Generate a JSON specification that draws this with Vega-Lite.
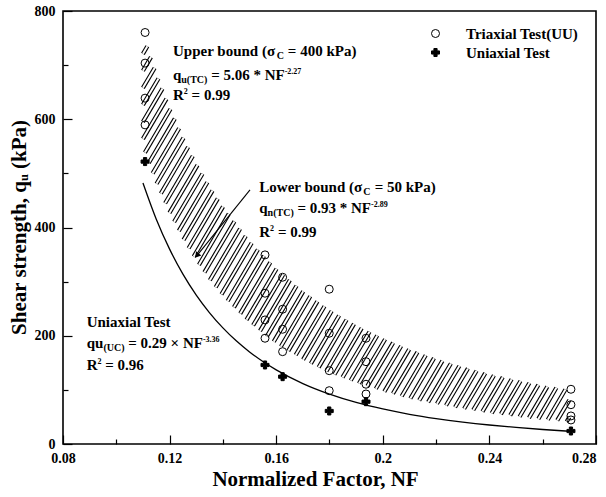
{
  "$schema": "https://vega.github.io/schema/vega-lite/v6.json",
  "width": 533,
  "height": 433,
  "autosize": "none",
  "padding": {"left": 63, "top": 11, "right": 10, "bottom": 53},
  "background": "white",
  "datasets": {
    "hatch": [
      {"x":0.11,"y":720.9,"x2":0.11166,"y2":734.8},
      {"x":0.11,"y":689.5,"x2":0.11302,"y2":714.8},
      {"x":0.11,"y":658.0,"x2":0.11439,"y2":694.8},
      {"x":0.11,"y":626.6,"x2":0.11583,"y2":675.4},
      {"x":0.11,"y":595.2,"x2":0.11733,"y2":656.6},
      {"x":0.11,"y":563.8,"x2":0.11883,"y2":637.7},
      {"x":0.11073,"y":538.4,"x2":0.12035,"y2":619.0},
      {"x":0.11218,"y":519.2,"x2":0.12197,"y2":601.1},
      {"x":0.11363,"y":500.0,"x2":0.12359,"y2":583.4},
      {"x":0.11509,"y":480.8,"x2":0.12523,"y2":565.6},
      {"x":0.11671,"y":462.8,"x2":0.12697,"y2":548.8},
      {"x":0.11832,"y":444.9,"x2":0.12871,"y2":532.0},
      {"x":0.11993,"y":427.0,"x2":0.13048,"y2":515.3},
      {"x":0.12169,"y":410.4,"x2":0.13234,"y2":499.4},
      {"x":0.12345,"y":393.7,"x2":0.13419,"y2":483.6},
      {"x":0.12522,"y":377.1,"x2":0.13611,"y2":468.2},
      {"x":0.12713,"y":361.6,"x2":0.13809,"y2":453.4},
      {"x":0.12904,"y":346.2,"x2":0.14006,"y2":438.6},
      {"x":0.13101,"y":331.0,"x2":0.1422,"y2":425.1},
      {"x":0.13305,"y":317.0,"x2":0.14433,"y2":411.3},
      {"x":0.13509,"y":302.6,"x2":0.14646,"y2":397.8},
      {"x":0.13728,"y":289.6,"x2":0.14859,"y2":384.3},
      {"x":0.13946,"y":276.5,"x2":0.1508,"y2":371.3},
      {"x":0.14178,"y":264.1,"x2":0.15313,"y2":359.3},
      {"x":0.14414,"y":252.5,"x2":0.15546,"y2":347.5},
      {"x":0.1465,"y":240.9,"x2":0.15779,"y2":335.5},
      {"x":0.14886,"y":229.4,"x2":0.16013,"y2":323.7},
      {"x":0.15134,"y":219.2,"x2":0.16264,"y2":313.1},
      {"x":0.15392,"y":208.9,"x2":0.16514,"y2":302.8},
      {"x":0.15649,"y":198.9,"x2":0.16764,"y2":292.4},
      {"x":0.15907,"y":189.1,"x2":0.17016,"y2":282.1},
      {"x":0.16178,"y":180.2,"x2":0.17281,"y2":273.0},
      {"x":0.16454,"y":172.1,"x2":0.17547,"y2":263.6},
      {"x":0.16731,"y":164.5,"x2":0.17813,"y2":254.5},
      {"x":0.17009,"y":155.8,"x2":0.18082,"y2":245.7},
      {"x":0.173,"y":148.6,"x2":0.18362,"y2":237.5},
      {"x":0.17592,"y":141.6,"x2":0.18641,"y2":229.6},
      {"x":0.17883,"y":134.4,"x2":0.18921,"y2":222.0},
      {"x":0.18183,"y":128.5,"x2":0.19209,"y2":214.2},
      {"x":0.18489,"y":123.1,"x2":0.19501,"y2":207.4},
      {"x":0.18795,"y":117.4,"x2":0.19792,"y2":200.4},
      {"x":0.19104,"y":111.8,"x2":0.20087,"y2":193.5},
      {"x":0.19421,"y":107.0,"x2":0.20388,"y2":187.2},
      {"x":0.19737,"y":102.0,"x2":0.2069,"y2":181.1},
      {"x":0.20056,"y":96.7,"x2":0.20991,"y2":174.9},
      {"x":0.20381,"y":93.2,"x2":0.21301,"y2":169.7},
      {"x":0.20707,"y":88.2,"x2":0.21611,"y2":164.0},
      {"x":0.21033,"y":84.1,"x2":0.21922,"y2":158.6},
      {"x":0.21366,"y":80.6,"x2":0.22237,"y2":153.6},
      {"x":0.21699,"y":77.3,"x2":0.22555,"y2":148.8},
      {"x":0.22032,"y":74.3,"x2":0.22873,"y2":144.2},
      {"x":0.22371,"y":71.2,"x2":0.23195,"y2":139.7},
      {"x":0.22711,"y":68.0,"x2":0.23519,"y2":135.3},
      {"x":0.23051,"y":65.2,"x2":0.23844,"y2":130.9},
      {"x":0.23395,"y":62.8,"x2":0.24171,"y2":126.8},
      {"x":0.23739,"y":59.9,"x2":0.24502,"y2":123.5},
      {"x":0.24084,"y":56.7,"x2":0.24833,"y2":119.6},
      {"x":0.24432,"y":55.3,"x2":0.25166,"y2":116.3},
      {"x":0.24781,"y":53.0,"x2":0.25501,"y2":112.8},
      {"x":0.25131,"y":50.3,"x2":0.25836,"y2":109.2},
      {"x":0.25483,"y":48.2,"x2":0.26174,"y2":106.1},
      {"x":0.25836,"y":46.4,"x2":0.26513,"y2":103.9},
      {"x":0.2619,"y":44.9,"x2":0.26852,"y2":100.7},
      {"x":0.26545,"y":43.6,"x2":0.27,"y2":81.1},
      {"x":0.269,"y":41.4,"x2":0.27,"y2":49.7}
    ],
    "fit": [
      {"x":0.11,"y":482.3},{"x":0.115,"y":415.3},{"x":0.12,"y":360.0},{"x":0.125,"y":313.8},
      {"x":0.13,"y":275.1},{"x":0.135,"y":242.4},{"x":0.14,"y":214.5},{"x":0.145,"y":190.6},
      {"x":0.15,"y":170.1},{"x":0.155,"y":152.3},{"x":0.16,"y":137.0},{"x":0.17,"y":111.7},
      {"x":0.18,"y":92.2},{"x":0.19,"y":76.8},{"x":0.2,"y":64.7},{"x":0.21,"y":54.9},
      {"x":0.22,"y":47.0},{"x":0.23,"y":40.5},{"x":0.24,"y":35.1},{"x":0.25,"y":30.6},
      {"x":0.26,"y":26.8},{"x":0.27,"y":23.6}
    ],
    "pts": [
      {"x":0.1108,"y":760.3,"s":"Triaxial Test(UU)"},
      {"x":0.1108,"y":703.7,"s":"Triaxial Test(UU)"},
      {"x":0.1108,"y":639.0,"s":"Triaxial Test(UU)"},
      {"x":0.1108,"y":589.6,"s":"Triaxial Test(UU)"},
      {"x":0.1558,"y":349.4,"s":"Triaxial Test(UU)"},
      {"x":0.1558,"y":278.6,"s":"Triaxial Test(UU)"},
      {"x":0.1558,"y":229.2,"s":"Triaxial Test(UU)"},
      {"x":0.1558,"y":195.4,"s":"Triaxial Test(UU)"},
      {"x":0.1624,"y":308.1,"s":"Triaxial Test(UU)"},
      {"x":0.1624,"y":249.0,"s":"Triaxial Test(UU)"},
      {"x":0.1624,"y":212.0,"s":"Triaxial Test(UU)"},
      {"x":0.1624,"y":170.6,"s":"Triaxial Test(UU)"},
      {"x":0.1799,"y":286.0,"s":"Triaxial Test(UU)"},
      {"x":0.1799,"y":204.6,"s":"Triaxial Test(UU)"},
      {"x":0.1799,"y":135.5,"s":"Triaxial Test(UU)"},
      {"x":0.1799,"y":98.5,"s":"Triaxial Test(UU)"},
      {"x":0.1937,"y":195.4,"s":"Triaxial Test(UU)"},
      {"x":0.1937,"y":152.1,"s":"Triaxial Test(UU)"},
      {"x":0.1937,"y":110.4,"s":"Triaxial Test(UU)"},
      {"x":0.1937,"y":92.4,"s":"Triaxial Test(UU)"},
      {"x":0.2706,"y":101.1,"s":"Triaxial Test(UU)"},
      {"x":0.2706,"y":72.6,"s":"Triaxial Test(UU)"},
      {"x":0.2706,"y":51.8,"s":"Triaxial Test(UU)"},
      {"x":0.2706,"y":44.4,"s":"Triaxial Test(UU)"},
      {"x":0.1108,"y":521.8,"s":"Uniaxial Test"},
      {"x":0.1558,"y":146.0,"s":"Uniaxial Test"},
      {"x":0.1624,"y":124.4,"s":"Uniaxial Test"},
      {"x":0.1799,"y":61.0,"s":"Uniaxial Test"},
      {"x":0.1937,"y":78.2,"s":"Uniaxial Test"},
      {"x":0.2706,"y":24.0,"s":"Uniaxial Test"}
    ],
    "arrowLine": [{"x":0.15017,"y":469.5,"x2":0.13047,"y2":349.5}],
    "arrowHead": [{"x":0.13047,"y":349.5}],
    "txtMain": [
      {"x":0.12128,"y":717.2,"t":"Upper  bound (σ"},
      {"x":0.16437,"y":717.2,"t":"= 400 kPa)"},
      {"x":0.12128,"y":672.8,"t":"q"},
      {"x":0.13561,"y":672.8,"t":"= 5.06 * NF"},
      {"x":0.12128,"y":635.9,"t":"R"},
      {"x":0.12826,"y":635.9,"t":"= 0.99"},
      {"x":0.15366,"y":466.4,"t":"Lower  bound (σ"},
      {"x":0.19694,"y":466.4,"t":"= 50 kPa)"},
      {"x":0.15366,"y":427.0,"t":"q"},
      {"x":0.16799,"y":427.0,"t":"= 0.93 * NF"},
      {"x":0.15366,"y":382.6,"t":"R"},
      {"x":0.16064,"y":382.6,"t":"= 0.99"},
      {"x":0.08889,"y":216.8,"t":"Uniaxial Test"},
      {"x":0.08889,"y":177.4,"t":"qu"},
      {"x":0.1045,"y":177.4,"t":"= 0.29 × NF"},
      {"x":0.08889,"y":136.8,"t":"R"},
      {"x":0.09587,"y":136.8,"t":"= 0.96"}
    ],
    "txtSub": [
      {"x":0.16018,"y":711.6,"t":"C"},
      {"x":0.12439,"y":667.3,"t":"u(TC)"},
      {"x":0.19271,"y":460.8,"t":"C"},
      {"x":0.15677,"y":421.4,"t":"n(TC)"},
      {"x":0.09516,"y":171.9,"t":"(UC)"}
    ],
    "txtSup": [
      {"x":0.16319,"y":683.9,"t":"-2.27"},
      {"x":0.12533,"y":647.0,"t":"2"},
      {"x":0.19557,"y":438.1,"t":"-2.89"},
      {"x":0.15771,"y":393.7,"t":"2"},
      {"x":0.1325,"y":188.5,"t":"-3.36"},
      {"x":0.09295,"y":147.9,"t":"2"}
    ]
  },
  "encoding": {
    "x": {
      "field": "x", "type": "quantitative",
      "scale": {"domain": [0.08, 0.28], "nice": false, "zero": false},
      "axis": {
        "title": "Normalized Factor, NF",
        "values": [0.08,0.1,0.12,0.14,0.16,0.18,0.2,0.22,0.24,0.26,0.28],
        "format": "~g",
        "labelExpr": "round(datum.value*100) % 4 == 0 ? datum.label : ''",
        "tickSize": {"condition": {"test": "round(datum.value*100) % 4 == 0", "value": -9}, "value": -5},
        "labelPadding": 16,
        "labelAlign": {"condition": {"test": "datum.value > 0.279", "value": "right"}, "value": "center"},
        "titleBaseline": "alphabetic",
        "titleX": 252,
        "titleY": 41
      }
    },
    "y": {
      "field": "y", "type": "quantitative",
      "scale": {"domain": [0, 800], "nice": false},
      "axis": {
        "title": "Shear strength, qᵤ (kPa)",
        "values": [0,100,200,300,400,500,600,700,800],
        "labelExpr": "datum.value % 200 == 0 ? datum.label : ''",
        "tickSize": {"condition": {"test": "datum.value % 200 == 0", "value": -9}, "value": -5},
        "labelPadding": 17,
        "titleBaseline": "alphabetic",
        "titleAngle": -90,
        "titleX": -38,
        "titleY": 216
      }
    }
  },
  "layer": [
    {
      "data": {"name": "hatch"},
      "mark": {"type": "rule", "stroke": "black", "strokeWidth": 4.2, "strokeCap": "butt"},
      "encoding": {"x2": {"field": "x2"}, "y2": {"field": "y2"}}
    },
    {
      "data": {"name": "hatch"},
      "mark": {"type": "rule", "stroke": "white", "strokeWidth": 2.0, "strokeCap": "butt"},
      "encoding": {"x2": {"field": "x2"}, "y2": {"field": "y2"}}
    },
    {
      "data": {"name": "fit"},
      "mark": {"type": "line", "stroke": "black", "strokeWidth": 1.3, "interpolate": "monotone"},
      "encoding": {}
    },
    {
      "data": {"name": "arrowLine"},
      "mark": {"type": "rule", "stroke": "black", "strokeWidth": 1.1},
      "encoding": {"x2": {"field": "x2"}, "y2": {"field": "y2"}}
    },
    {
      "data": {"name": "arrowHead"},
      "mark": {"type": "point", "shape": "triangle", "angle": 219, "size": 45, "filled": true, "color": "black", "opacity": 1},
      "encoding": {}
    },
    {
      "data": {"name": "pts"},
      "mark": {"type": "point", "strokeWidth": 1, "size": 64, "opacity": 1},
      "encoding": {
        "shape": {
          "field": "s", "type": "nominal",
          "scale": {"domain": ["Triaxial Test(UU)", "Uniaxial Test"], "range": ["circle", "cross"]},
          "legend": {"title": null, "orient": "none", "legendX": 365, "legendY": 15}
        },
        "fill": {
          "field": "s", "type": "nominal",
          "scale": {"domain": ["Triaxial Test(UU)", "Uniaxial Test"], "range": ["transparent", "black"]},
          "legend": {"title": null, "orient": "none", "legendX": 365, "legendY": 15}
        },
        "stroke": {
          "field": "s", "type": "nominal",
          "scale": {"domain": ["Triaxial Test(UU)", "Uniaxial Test"], "range": ["black", "black"]},
          "legend": {"title": null, "orient": "none", "legendX": 365, "legendY": 15}
        }
      }
    },
    {
      "data": {"name": "txtMain"},
      "mark": {"type": "text", "align": "left", "baseline": "alphabetic", "font": "Liberation Serif", "fontWeight": "bold", "fontSize": 15, "color": "black"},
      "encoding": {"text": {"field": "t"}}
    },
    {
      "data": {"name": "txtSub"},
      "mark": {"type": "text", "align": "left", "baseline": "alphabetic", "font": "Liberation Serif", "fontWeight": "bold", "fontSize": 10, "color": "black"},
      "encoding": {"text": {"field": "t"}}
    },
    {
      "data": {"name": "txtSup"},
      "mark": {"type": "text", "align": "left", "baseline": "alphabetic", "font": "Liberation Serif", "fontWeight": "bold", "fontSize": 8, "color": "black"},
      "encoding": {"text": {"field": "t"}}
    }
  ],
  "config": {
    "view": {"stroke": "black", "strokeWidth": 1.6},
    "font": "Liberation Serif",
    "axis": {
      "domain": false,
      "grid": false,
      "tickColor": "black",
      "tickWidth": 1.2,
      "labelColor": "black",
      "labelFont": "Liberation Serif",
      "labelFontWeight": "bold",
      "labelFontSize": 14,
      "titleColor": "black",
      "titleFont": "Liberation Serif",
      "titleFontWeight": "bold",
      "titleFontSize": 21
    },
    "legend": {
      "padding": 0,
      "labelFont": "Liberation Serif",
      "labelFontWeight": "bold",
      "labelFontSize": 15,
      "labelColor": "black",
      "labelOffset": 23,
      "rowPadding": 3,
      "symbolSize": 64,
      "symbolStrokeColor": "black",
      "symbolStrokeWidth": 1
    }
  }
}
